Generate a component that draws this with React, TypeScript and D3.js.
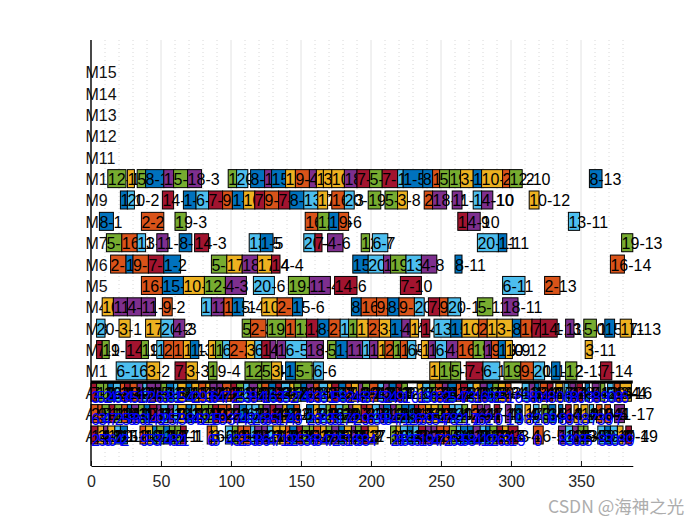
import React, { useEffect, useRef } from 'react';
import * as d3 from 'd3';

type Op = [number, number, string];
type WorkerOp = [number, number, string, string];

const rowNames = ['A1', 'A2', 'A3', 'M1', 'M2', 'M3', 'M4', 'M5', 'M6', 'M7', 'M8', 'M9', 'M10', 'M11', 'M12', 'M13', 'M14', 'M15'];
const xTicks = [0, 50, 100, 150, 200, 250, 300, 350];
const minorTicks = [10, 20, 30, 40, 60, 70, 80, 90, 110, 120, 130, 140, 160, 170, 180, 190, 210, 220, 230, 240, 260, 270, 280, 290, 310, 320, 330, 340, 360, 370, 380];
const lineColors = ['#A2142F', '#0072BD', '#D95319', '#EDB120', '#7E2F8E', '#77AC30', '#4DBEEE'];

const m10: Op[] = [[12, 13, '12-1'], [26, 5, '17-1'], [33, 6, '5-1'], [39, 13, '8-1'], [52, 7, '11-1'], [59, 10, '5-2'], [69, 10, '18-3'], [98, 6, '12-2'], [104, 8, '20-2'], [114, 10, '8-2'], [124, 5, '11-2'], [129, 10, '15-2'], [139, 7, '17-2'], [146, 10, '9-4'], [156, 5, '4-1'], [161, 5, '17-3'], [166, 6, '3-2'], [172, 9, '10-3'], [181, 9, '18-1'], [190, 9, '7-5'], [199, 9, '5-2'], [208, 11, '7-6'], [219, 4, '13-3'], [223, 14, '1-5'], [237, 7, '8-3'], [244, 5, '16-2'], [249, 7, '5-3'], [256, 8, '19-2'], [264, 9, '3-3'], [273, 6, '15-3'], [279, 15, '10-4'], [294, 5, '2-12'], [299, 9, '12-10'], [356, 9, '8-13']];
const m9: Op[] = [[21, 5, '1-1'], [26, 5, '20-2'], [51, 8, '14-1'], [66, 9, '1-2'], [75, 9, '6-1'], [84, 10, '7-2'], [94, 7, '9-1'], [101, 8, '1-3'], [109, 8, '10-2'], [117, 7, '7-3'], [124, 10, '9-2'], [134, 8, '7-4'], [142, 10, '8-1'], [152, 10, '13-1'], [162, 7, '17-1'], [172, 9, '16-3'], [181, 7, '20-8'], [198, 9, '19-3'], [210, 9, '5-3'], [219, 7, '3-8'], [238, 6, '2-3'], [244, 10, '18-2'], [258, 7, '11-3'], [273, 6, '13-10'], [279, 8, '4-10'], [313, 7, '10-12']];
const m8: Op[] = [[6, 10, '8-1'], [36, 16, '2-2'], [60, 8, '19-3'], [153, 9, '16-3'], [162, 8, '12-4'], [170, 7, '1-6'], [177, 7, '9-6'], [262, 7, '14-9'], [269, 9, '4-10'], [341, 8, '13-11']];
const m7: Op[] = [[11, 11, '5-1'], [22, 11, '16-1'], [33, 6, '13-1'], [47, 8, '11-2'], [63, 9, '8-2'], [74, 10, '14-3'], [113, 8, '13-5'], [121, 9, '1-5'], [152, 8, '20-4'], [160, 5, '7-6'], [169, 11, '4-6'], [193, 6, '12-7'], [201, 11, '6-7'], [276, 15, '20-11'], [291, 6, '1-11'], [379, 8, '19-13']];
const m6: Op[] = [[14, 11, '2-1'], [25, 5, '1-1'], [30, 11, '9-1'], [41, 11, '7-1'], [52, 12, '1-2'], [86, 11, '5-4'], [97, 11, '17-2'], [108, 11, '18-3'], [119, 10, '17-4'], [129, 6, '14-4'], [187, 11, '15-4'], [198, 11, '20-5'], [209, 5, '18-4'], [214, 11, '19-5'], [225, 11, '13-5'], [236, 11, '4-8'], [260, 5, '8-11'], [371, 10, '16-14']];
const m5: Op[] = [[36, 15, '16-2'], [51, 15, '15-1'], [66, 15, '10-1'], [81, 15, '12-1'], [96, 15, '4-3'], [116, 15, '20-6'], [141, 15, '19-4'], [156, 15, '11-4'], [174, 16, '14-6'], [221, 15, '7-10'], [294, 16, '6-11'], [324, 11, '2-13']];
const m4: Op[] = [[8, 8, '10-1'], [16, 10, '11-1'], [26, 10, '4-1'], [36, 10, '11-2'], [51, 7, '9-2'], [79, 7, '13-2'], [86, 9, '11-3'], [95, 6, '16-1'], [101, 8, '15-4'], [122, 11, '10-3'], [133, 11, '2-6'], [144, 7, '15-6'], [186, 7, '8-5'], [193, 11, '16-6'], [204, 8, '9-5'], [212, 8, '8-6'], [220, 11, '9-7'], [231, 7, '20-7'], [241, 8, '7-8'], [249, 6, '9-8'], [255, 9, '20-10'], [276, 11, '5-11'], [294, 11, '18-11']];
const m3: Op[] = [[4, 6, '20-1'], [20, 8, '3-1'], [39, 11, '17-1'], [50, 9, '20-2'], [59, 8, '4-3'], [108, 6, '5-2'], [114, 11, '2-3'], [126, 13, '19-3'], [139, 7, '16-2'], [146, 8, '12-2'], [154, 8, '14-2'], [162, 8, '8-4'], [170, 8, '2-4'], [178, 6, '13-3'], [184, 6, '12-3'], [190, 8, '17-2'], [198, 8, '2-5'], [206, 8, '3-4'], [214, 8, '1-4'], [222, 6, '4-4'], [228, 6, '17-3'], [236, 6, '14-7'], [245, 12, '13-6'], [257, 8, '15-5'], [265, 12, '10-5'], [277, 6, '2-9'], [283, 7, '17-8'], [290, 11, '3-8'], [301, 6, '8-8'], [307, 8, '16-8'], [315, 6, '7-11'], [321, 12, '14-13'], [339, 6, '11-10'], [352, 9, '5-10'], [367, 7, '15-11'], [378, 8, '17-13']];
const m2: Op[] = [[4, 4, '7-1'], [8, 5, '19-1'], [25, 11, '14-1'], [36, 5, '19-2'], [47, 5, '13-1'], [52, 7, '2-1'], [59, 7, '16-1'], [66, 5, '17-1'], [71, 6, '1-3'], [84, 5, '10-2'], [89, 5, '12-1'], [94, 5, '6-2'], [99, 12, '2-2'], [111, 6, '3-3'], [117, 5, '6-3'], [122, 6, '14-2'], [128, 4, '4-2'], [133, 6, '11-3'], [139, 15, '6-5'], [154, 12, '18-4'], [169, 6, '5-5'], [175, 8, '1-7'], [183, 11, '11-5'], [194, 5, '13-4'], [199, 6, '11-6'], [205, 5, '17-5'], [210, 6, '2-7'], [216, 5, '12-5'], [221, 5, '16-4'], [226, 6, '6-7'], [236, 5, '10-6'], [241, 5, '11-7'], [246, 8, '6-8'], [254, 8, '4-9'], [262, 11, '16-7'], [273, 8, '19-6'], [281, 5, '18-9'], [286, 5, '9-10'], [291, 5, '15-9'], [296, 5, '10-12'], [353, 5, '3-11']];
const m1: Op[] = [[18, 22, '6-16'], [40, 9, '3-2'], [60, 8, '7-2'], [68, 8, '3-3'], [84, 6, '19-4'], [110, 12, '12-3'], [122, 7, '5-4'], [129, 7, '3-5'], [139, 7, '1-4'], [146, 12, '5-7'], [159, 7, '6-6'], [242, 7, '10-9'], [249, 8, '19-7'], [257, 7, '5-8'], [268, 12, '7-9'], [280, 12, '6-10'], [295, 12, '19-9'], [307, 9, '9-11'], [316, 8, '20-11'], [329, 6, '1-12'], [339, 8, '12-13'], [364, 8, '7-14']];

const a3: WorkerOp[] = [[0, 4, '7-1', '3'], [4, 5, '12-1', '5'], [9, 3, '19-1', '2'], [12, 4, '1-1', '4'], [16, 5, '6-1', '6'], [21, 3, '2-1', '3'], [24, 4, '14-1', '4'], [28, 5, '9-1', '5'], [33, 4, '4-1', '1'], [37, 3, '20-1', '7'], [40, 6, '11-1', '2'], [46, 4, '18-1', '6'], [50, 4, '5-1', '3'], [54, 5, '15-1', '8'], [59, 3, '13-1', '1'], [62, 6, '3-1', '5'], [68, 4, '8-1', '4'], [72, 5, '17-1', '2'], [77, 5, '16-1', '9'], [82, 3, '10-1', '3'], [85, 5, '11-2', '6'], [90, 4, '4-2', '4'], [94, 6, '2-2', '7'], [100, 4, '7-2', '2'], [104, 5, '19-2', '5'], [109, 4, '13-2', '3'], [113, 6, '18-2', '8'], [119, 3, '12-2', '4'], [122, 5, '9-2', '1'], [127, 5, '1-2', '6'], [132, 4, '14-2', '3'], [136, 6, '6-2', '5'], [142, 3, '17-2', '2'], [145, 5, '5-2', '7'], [150, 4, '8-2', '4'], [154, 5, '11-3', '9'], [159, 4, '16-2', '3'], [163, 6, '20-2', '6'], [169, 3, '3-2', '1'], [172, 5, '7-3', '5'], [177, 5, '15-2', '8'], [182, 4, '2-3', '2'], [186, 5, '10-2', '4'], [191, 3, '4-3', '6'], [194, 5, '19-3', '3'], [199, 6, '9-3', '7'], [205, 4, '13-3', '5'], [209, 4, '18-3', '2'], [213, 5, '1-3', '4'], [218, 4, '14-3', '9'], [222, 4, '12-3', '10'], [233, 4, '17-3', '1'], [237, 5, '6-3', '3'], [242, 4, '5-3', '6'], [246, 5, '2-4', '8'], [251, 4, '11-4', '2'], [255, 6, '8-3', '5'], [261, 3, '16-3', '4'], [264, 5, '7-4', '7'], [269, 4, '20-3', '3'], [273, 5, '10-3', '1'], [278, 5, '4-4', '6'], [283, 4, '15-3', '9'], [287, 4, '19-4', '2'], [291, 5, '3-3', '5'], [296, 4, '9-4', '16'], [308, 5, '13-4', '3'], [313, 4, '18-4', '8'], [317, 3, '1-4', '0'], [321, 5, '2-5', '4'], [326, 4, '14-4', '8'], [332, 5, '17-4', '0'], [338, 3, '6-4', '6'], [342, 4, '11-5', '8'], [347, 4, '7-5', '0'], [353, 3, '8-4', '3'], [358, 5, '4-5', '8'], [364, 3, '12-4', '9'], [369, 4, '20-4', '0'], [374, 4, '16-4', '8'], [378, 8, '3-16', '6']];
const a2: WorkerOp[] = [[0, 5, '2-1', '6'], [5, 3, '9-1', '3'], [8, 5, '5-1', '4'], [13, 4, '14-1', '7'], [17, 5, '12-1', '2'], [22, 4, '16-1', '5'], [26, 3, '8-1', '8'], [29, 5, '4-1', '3'], [34, 4, '19-1', '6'], [38, 4, '1-1', '1'], [42, 5, '7-1', '4'], [47, 3, '11-1', '9'], [50, 5, '6-1', '2'], [55, 4, '18-1', '5'], [59, 3, '13-1', '7'], [62, 6, '3-1', '3'], [68, 4, '15-1', '8'], [72, 3, '20-1', '4'], [75, 4, '17-1', '6'], [79, 5, '19-2', '2'], [84, 3, '12-2', '1'], [87, 4, '7-2', '5'], [91, 6, '9-2', '9'], [97, 3, '2-2', '3'], [102, 4, '11-2', '7'], [106, 5, '1-2', '4'], [111, 4, '6-2', '8'], [115, 5, '13-2', '2'], [120, 3, '5-2', '6'], [123, 5, '18-2', '3'], [128, 4, '14-2', '5'], [132, 5, '4-2', '1'], [137, 3, '10-1', '7'], [140, 5, '8-2', '4'], [145, 4, '16-2', '9'], [154, 5, '15-2', '2'], [159, 4, '3-2', '6'], [163, 5, '20-2', '8'], [168, 3, '12-3', '3'], [171, 4, '9-3', '5'], [175, 5, '6-3', '1'], [180, 4, '19-3', '7'], [184, 3, '4-3', '4'], [187, 6, '17-2', '2'], [193, 4, '7-3', '9'], [197, 4, '2-3', '6'], [201, 5, '13-3', '3'], [206, 3, '11-3', '5'], [209, 5, '1-3', '8'], [214, 4, '18-3', '4'], [218, 4, '5-3', '7'], [222, 5, '15-3', '1'], [227, 4, '8-3', '2'], [231, 3, '14-3', '6'], [234, 5, '16-3', '3'], [239, 4, '10-2', '9'], [243, 5, '3-3', '5'], [248, 3, '19-4', '4'], [251, 5, '9-4', '7'], [256, 4, '6-4', '8'], [260, 5, '20-3', '2'], [265, 4, '12-4', '17'], [272, 4, '2-4', '1'], [276, 4, '4-4', '6'], [281, 4, '11-4', '2'], [288, 4, '7-4', '0'], [296, 4, '18-4', '1'], [303, 5, '1-4', '9'], [310, 4, '17-3', '8'], [316, 4, '13-4', '2'], [322, 4, '5-4', '0'], [327, 5, '15-4', '9'], [334, 3, '8-4', '8'], [339, 4, '14-4', '9'], [345, 3, '3-4', '1'], [350, 5, '10-3', '8'], [356, 3, '20-4', '7'], [361, 4, '16-4', '3'], [367, 4, '9-5', '9'], [374, 7, '11-17', '7']];
const a1: WorkerOp[] = [[0, 5, '14-1', '2'], [5, 4, '3-1', '5'], [9, 3, '18-1', '3'], [12, 5, '10-1', '6'], [17, 4, '20-1', '4'], [21, 5, '15-1', '2'], [35, 4, '2-2', '9'], [39, 5, '17-1', '5'], [44, 3, '8-1', '3'], [47, 5, '12-1', '7'], [52, 4, '1-1', '4'], [56, 4, '19-1', '8'], [60, 4, '5-1', '2'], [64, 4, '7-1', '1'], [83, 3, '16-1', '6'], [86, 4, '3-2', '5'], [96, 5, '6-1', '4'], [101, 4, '19-2', '3'], [105, 4, '9-1', '2'], [109, 5, '16-2', '5'], [114, 3, '13-1', '3'], [117, 5, '11-1', '8'], [122, 4, '4-1', '6'], [126, 4, '20-2', '4'], [130, 5, '3-3', '7'], [135, 4, '17-2', '1'], [139, 3, '2-3', '9'], [142, 5, '8-2', '2'], [147, 4, '14-2', '5'], [151, 5, '19-3', '3'], [156, 3, '5-2', '6'], [159, 5, '16-3', '8'], [164, 4, '10-2', '4'], [168, 4, '12-2', '7'], [172, 5, '18-2', '2'], [177, 4, '1-2', '5'], [181, 5, '3-4', '1'], [186, 3, '11-2', '6'], [189, 4, '5-3', '9'], [193, 5, '7-2', '3'], [198, 7, '17-3', '4'], [214, 4, '19-4', '2'], [218, 3, '10-3', '6'], [221, 5, '6-2', '8'], [226, 4, '15-2', '3'], [230, 4, '13-2', '5'], [234, 5, '7-3', '1'], [239, 4, '4-2', '9'], [243, 4, '11-3', '4'], [247, 5, '2-4', '7'], [252, 4, '16-4', '2'], [256, 5, '5-4', '6'], [261, 3, '20-3', '3'], [264, 5, '1-3', '5'], [269, 4, '15-3', '8'], [273, 5, '18-3', '4'], [278, 4, '6-3', '1'], [282, 3, '8-3', '9'], [285, 5, '12-3', '2'], [290, 4, '14-3', '6'], [294, 4, '3-5', '3'], [298, 7, '14-4', '19'], [316, 7, '16-5', '0'], [334, 5, '18-4', '8'], [339, 5, '13-3', '3'], [344, 4, '11-4', '0'], [348, 4, '19-5', '8'], [352, 3, '5-5', '5'], [362, 5, '20-4', '8'], [367, 4, '1-4', '3'], [371, 5, '6-4', '0'], [376, 4, '10-4', '8'], [382, 4, '7-19', '9']];

const machineRows: [string, Op[]][] = [['M1', m1], ['M2', m2], ['M3', m3], ['M4', m4], ['M5', m5], ['M6', m6], ['M7', m7], ['M8', m8], ['M9', m9], ['M10', m10]];
const workerRows: [string, WorkerOp[]][] = [['A1', a1], ['A2', a2], ['A3', a3]];

const width = 700;
const height = 525;
const font = '"Liberation Sans", Arial, sans-serif';

const App = () => {
  const ref = useRef<SVGSVGElement>(null);

  useEffect(() => {
    const svg = d3.select(ref.current);
    svg.selectAll('*').remove();

    const x = d3.scaleLinear().domain([0, 387]).range([91, 632.8]);
    const y = d3.scalePoint().domain(rowNames).range([436, 72.8]);

    // background grid, solid on the ticks and dotted between them
    svg.append('g').selectAll('line').data(minorTicks).join('line')
      .attr('x1', d => x(d)).attr('x2', d => x(d)).attr('y1', 40).attr('y2', 466)
      .attr('stroke', '#d8d8d8').attr('stroke-dasharray', '1 3');
    svg.append('g').selectAll('line').data(xTicks).join('line')
      .attr('x1', d => x(d)).attr('x2', d => x(d)).attr('y1', 40).attr('y2', 466)
      .attr('stroke', '#e2e2e2');

    // row names sit under the bars, so later bars hide part of them
    svg.append('g').selectAll('text').data(rowNames).join('text')
      .attr('x', 85.5).attr('y', d => y(d)! + 5.5)
      .attr('font-family', font).attr('font-size', 16).attr('fill', '#111')
      .text(d => d);

    const colorOf = (label: string) => lineColors[+label.split('-')[0] % 7];

    const addBar = (g: any, row: string, op: Op | WorkerOp) => {
      g.append('rect')
        .attr('x', x(op[0])).attr('y', y(row)! - 10).attr('width', x(op[0] + op[1]) - x(op[0])).attr('height', 18)
        .attr('fill', colorOf(op[2])).attr('stroke', '#000').attr('stroke-width', 1);
    };
    const addLabel = (g: any, row: string, op: Op | WorkerOp) => {
      g.append('text')
        .attr('x', x(op[0])).attr('y', y(row)! + 5.5)
        .attr('font-family', font).attr('font-size', 16).attr('fill', '#000')
        .text(op[2]);
    };

    // machine rows: bar then label in order, the next bar covers the label before it
    const bars = svg.append('g');
    machineRows.forEach(([row, ops]) => ops.forEach(op => {
      addBar(bars, row, op);
      addLabel(bars, row, op);
    }));

    // worker rows: labels all lie over the bars
    workerRows.forEach(([row, ops]) => ops.forEach(op => addBar(bars, row, op)));
    workerRows.forEach(([row, ops]) => ops.forEach(op => addLabel(bars, row, op)));

    // heavy band along the top of A3, all the bar edges running together
    svg.append('line')
      .attr('x1', x(0)).attr('x2', x(387)).attr('y1', 382).attr('y2', 382)
      .attr('stroke', '#000').attr('stroke-width', 3);

    // blue numbers on the worker rows stay on top of everything
    workerRows.forEach(([row, ops]) => {
      svg.append('g').selectAll('text').data(ops).join('text')
        .attr('x', d => x(d[0])).attr('y', y(row)! + 10)
        .attr('font-family', font).attr('font-size', 16).attr('fill', '#0000ff')
        .text(d => d[3]);
    });

    const axis = svg.append('g')
      .attr('transform', 'translate(0,466)')
      .call(d3.axisBottom(x).tickValues(xTicks).tickFormat(d3.format('d')).tickSizeInner(-5).tickSizeOuter(0).tickPadding(10));
    axis.select('.domain').attr('stroke', '#000').attr('stroke-width', 1.2);
    axis.selectAll('line').attr('stroke', '#222');
    axis.selectAll('text').attr('font-family', font).attr('font-size', 16).attr('fill', '#262626');

    svg.append('line')
      .attr('x1', x(0)).attr('x2', x(0)).attr('y1', 40).attr('y2', 466)
      .attr('stroke', '#000').attr('stroke-width', 1.4);

    svg.append('text')
      .attr('x', 548).attr('y', 513)
      .attr('font-family', '"Noto Sans CJK SC", "Noto Sans", sans-serif').attr('font-size', 17.5).attr('fill', '#adadad')
      .text('CSDN @海神之光');
  }, []);

  return <svg ref={ref} width={width} height={height} style={{ position: 'absolute', left: 0, top: 0 }} />;
};

export default App;
